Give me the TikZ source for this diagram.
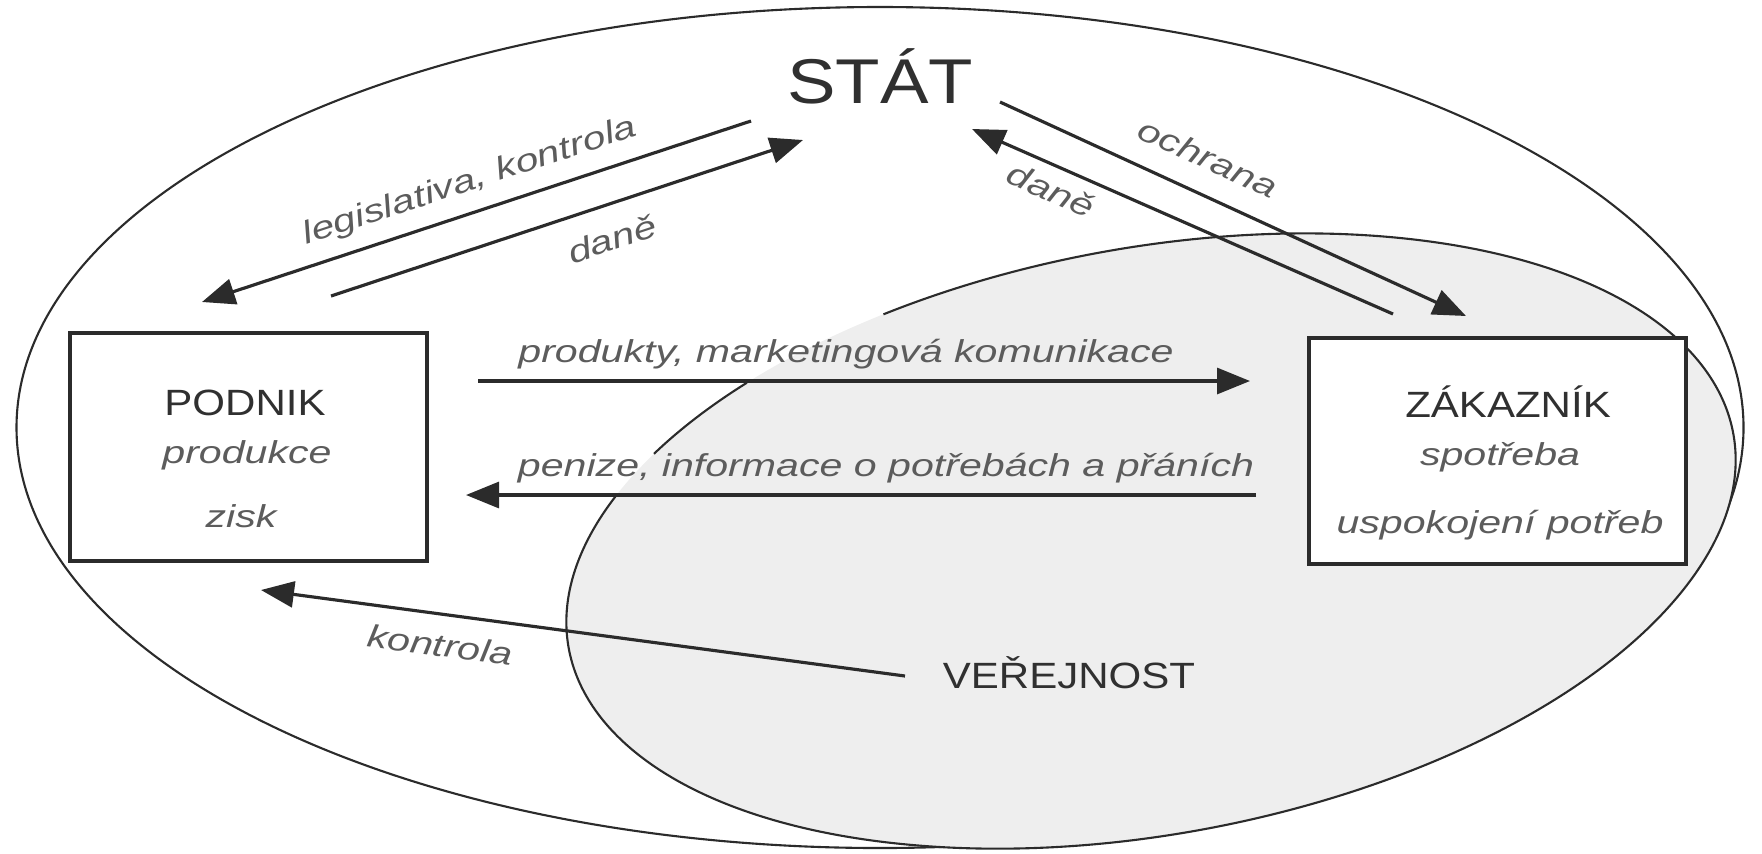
\documentclass[tikz,border=0pt]{standalone}
\usepackage{fontspec}
\setmainfont{Liberation Sans}[FakeStretch=1.15]
\newfontfamily\lblfont{Liberation Sans}[FakeStretch=1.3]
\usetikzlibrary{arrows.meta}
\definecolor{linegray}{HTML}{2B2B2B}
\definecolor{lblgray}{HTML}{5C5C5C}
\definecolor{txtgray}{HTML}{303030}
\definecolor{publicgray}{HTML}{EEEEEE}

\begin{document}
\begin{tikzpicture}[
  flow/.style={line width=0.9pt,linegray,-{Triangle[length=3.3mm,width=2.6mm]}},
  rim/.style={line width=0.6pt,linegray},
  box/.style={draw=linegray,fill=white,line width=0.9pt,inner sep=0pt},
  title/.style={txtgray,font=\fontsize{10.4}{12}\selectfont,anchor=base},
  lbl/.style={lblgray,font=\lblfont\itshape\fontsize{9}{11}\selectfont,anchor=base},
]
\useasboundingbox (0,0) rectangle (17.62,8.53);
% okoli
\draw [rim] (8.80,4.255) ellipse [x radius=8.635, y radius=4.205];
% verejnost
\begin{scope}[shift={(11.51,3.12)},rotate=10.5]
\fill [publicgray] (0,0) ellipse [x radius=5.92, y radius=2.93];
\draw [rim] (128.5:5.92 and 2.93) arc [start angle=128.5, end angle=143, x radius=5.92, y radius=2.93];
\draw [rim] (151:5.92 and 2.93) arc [start angle=151, end angle=472, x radius=5.92, y radius=2.93];
\end{scope}

\node [txtgray,font=\fontsize{18}{20}\selectfont,anchor=base] (stat) at (8.80,7.50) {STÁT};
\node [box,minimum width=3.57cm,minimum height=2.28cm] (podnik) at (2.485,4.06) {};
\node [box,minimum width=3.77cm,minimum height=2.26cm] (zakaznik) at (14.975,4.02) {};

\node [title] (podnikT) at (2.45,4.38) {PODNIK};
\node [lbl] (produkce) at (2.47,3.90) {produkce};
\node [lbl] (zisk) at (2.41,3.26) {zisk};
\node [title] (zakaznikT) at (15.08,4.36) {ZÁKAZNÍK};
\node [lbl] (spotreba) at (15.00,3.88) {spotřeba};
\node [lbl] (uspokojeni) at (15.00,3.20) {uspokojení potřeb};
\node [title] (verejnost) at (10.69,1.65) {VEŘEJNOST};

% konce sipek
\coordinate (legA) at (7.51,7.32);  \coordinate (legB) at (2.02,5.51);
\coordinate (danLA) at (3.31,5.57); \coordinate (danLB) at (8.03,7.13);
\coordinate (danRA) at (13.93,5.39); \coordinate (danRB) at (9.72,7.24);
\coordinate (ochrA) at (10.00,7.51); \coordinate (ochrB) at (14.66,5.37);
\coordinate (prodA) at (4.78,4.72); \coordinate (prodB) at (12.50,4.72);
\coordinate (penA) at (12.56,3.58); \coordinate (penB) at (4.66,3.58);
\coordinate (kontA) at (9.05,1.77); \coordinate (kontB) at (2.61,2.63);

\draw [flow] (legA) -- (legB);
\draw [flow] (danLA) -- (danLB);
\draw [flow] (danRA) -- (danRB);
\draw [flow] (ochrA) -- (ochrB);
\draw [flow] (prodA) -- (prodB);
\draw [flow] (penA) -- (penB);
\draw [flow] (kontA) -- (kontB);

\node [lbl,anchor=center,rotate=18.3] (legLbl) at (4.70,6.71) {legislativa, kontrola};
\node [lbl,anchor=center,rotate=18.3] (danLLbl) at (6.12,6.14) {daně};
\node [lbl,anchor=center,rotate=-24.7] (ochrLbl) at (12.08,6.95) {ochrana};
\node [lbl,anchor=center,rotate=-24] (danRLbl) at (10.51,6.63) {daně};
\node [lbl] (prodLbl) at (8.46,4.91) {produkty, marketingová komunikace};
\node [lbl] (penLbl) at (8.86,3.77) {penize, informace o potřebách a přáních};
\node [lbl,anchor=center,rotate=-7.6] (kontLbl) at (4.40,2.08) {kontrola};
\end{tikzpicture}
\end{document}
